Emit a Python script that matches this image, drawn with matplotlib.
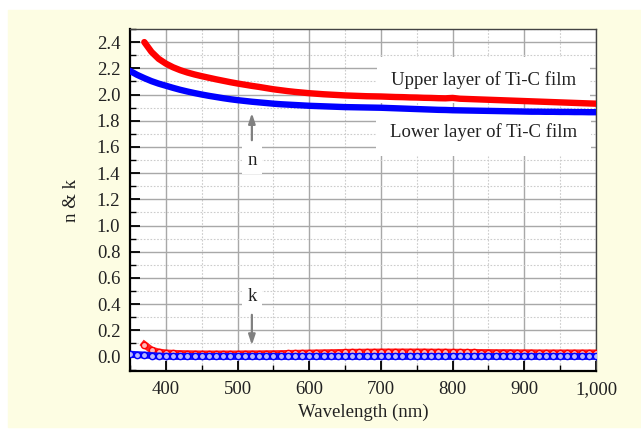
import numpy as np
import matplotlib
matplotlib.use("Agg")
import matplotlib.pyplot as plt
from matplotlib.ticker import MultipleLocator, FuncFormatter
from matplotlib.patches import Rectangle

plt.rcParams['font.family'] = ['Liberation Serif', 'DejaVu Serif']

# wavelength grid (nm)
wl_blue = [350, 360, 370, 380, 390, 400, 410, 420, 430, 440, 450, 460, 470, 480, 490,
           500, 510, 520, 530, 540, 550, 560, 570, 580, 590, 600, 610, 620, 630, 640,
           650, 660, 670, 680, 690, 700, 710, 720, 730, 740, 750, 760, 770, 780, 790,
           800, 810, 820, 830, 840, 850, 860, 870, 880, 890, 900, 910, 920, 930, 940,
           950, 960, 970, 980, 990, 1000]
wl_red = wl_blue[2:]

# lower layer (blue)
n_lower = [2.180, 2.150, 2.125, 2.102, 2.083, 2.067, 2.051, 2.036, 2.023, 2.011,
           2.000, 1.990, 1.981, 1.972, 1.964, 1.957, 1.951, 1.945, 1.940, 1.935,
           1.930, 1.926, 1.923, 1.920, 1.917, 1.914, 1.912, 1.910, 1.908, 1.906,
           1.904, 1.903, 1.902, 1.901, 1.900, 1.899, 1.897, 1.895, 1.893, 1.891,
           1.889, 1.887, 1.885, 1.883, 1.882, 1.880, 1.879, 1.878, 1.877, 1.876,
           1.875, 1.874, 1.873, 1.872, 1.871, 1.870, 1.869, 1.869, 1.868, 1.868,
           1.867, 1.867, 1.866, 1.866, 1.865, 1.865]
k_lower = [0.018, 0.015, 0.012, 0.008, 0.004, 0.002, 0.001, 0.001, 0.001, 0.001,
           0.001, 0.001, 0.001, 0.001, 0.001, 0.001, 0.001, 0.001, 0.001, 0.001,
           0.001, 0.001, 0.001, 0.001, 0.001, 0.001, 0.001, 0.001, 0.001, 0.001,
           0.001, 0.001, 0.001, 0.001, 0.001, 0.001, 0.001, 0.001, 0.001, 0.001,
           0.001, 0.001, 0.001, 0.001, 0.001, 0.001, 0.001, 0.001, 0.001, 0.001,
           0.001, 0.001, 0.001, 0.001, 0.001, 0.001, 0.001, 0.001, 0.001, 0.001,
           0.001, 0.001, 0.001, 0.001, 0.001, 0.001]

# upper layer (red)
n_upper = [2.400, 2.325, 2.272, 2.236, 2.208, 2.186, 2.168, 2.153, 2.140, 2.128,
           2.116, 2.105, 2.094, 2.084, 2.075, 2.066, 2.058, 2.049, 2.040, 2.033,
           2.026, 2.020, 2.015, 2.010, 2.006, 2.002, 1.999, 1.996, 1.993, 1.991,
           1.989, 1.987, 1.986, 1.985, 1.983, 1.981, 1.980, 1.978, 1.977, 1.975,
           1.974, 1.972, 1.971, 1.974, 1.968, 1.966, 1.964, 1.962, 1.960, 1.958,
           1.956, 1.954, 1.952, 1.950, 1.948, 1.946, 1.944, 1.942, 1.940, 1.938,
           1.936, 1.934, 1.932, 1.930]
k_upper = [0.092, 0.050, 0.035, 0.028, 0.025, 0.023, 0.022, 0.021, 0.020, 0.020,
           0.020, 0.020, 0.020, 0.020, 0.021, 0.021, 0.021, 0.022, 0.022, 0.023,
           0.024, 0.025, 0.026, 0.027, 0.028, 0.029, 0.030, 0.031, 0.032, 0.033,
           0.033, 0.034, 0.034, 0.035, 0.035, 0.035, 0.035, 0.035, 0.035, 0.035,
           0.034, 0.034, 0.034, 0.033, 0.033, 0.032, 0.032, 0.031, 0.031, 0.030,
           0.030, 0.030, 0.029, 0.029, 0.029, 0.028, 0.028, 0.028, 0.028, 0.028,
           0.028, 0.028, 0.028, 0.028]

fig = plt.figure(figsize=(6.41, 4.32), dpi=100)
fig.patches.append(Rectangle((8/641, 5/432), 1 - 8/641, 1 - 15/432,
                             transform=fig.transFigure, color='#fdfde3', zorder=-10))
ax = fig.add_axes([130/641, 61/432, 466/641, 342/432])
ax.set_zorder(1)

# n curves
ax.plot(wl_red, n_upper, color='#ff0000', lw=4.6, solid_capstyle='round', zorder=4)
ax.plot(wl_blue, n_lower, color='#0000ff', lw=4.6, solid_capstyle='round', zorder=4)
# k curves (open circles)
ax.plot(wl_red, k_upper, color='#ff2020', lw=5, zorder=4)
ax.plot(wl_red, k_upper, 'o', ms=4.5, mec='#ff0000', mfc='#ffb8b8', mew=1, zorder=4)
ax.plot(wl_blue, k_lower, color='#1010ff', lw=5, zorder=4)
ax.plot(wl_blue, k_lower, 'o', ms=4.5, mec='#0000ff', mfc='#b8b8ff', mew=1, zorder=4)

ax.set_xlim(350, 1000)
ax.set_ylim(-0.11, 2.5)
ax.xaxis.set_major_locator(MultipleLocator(100))
ax.xaxis.set_minor_locator(MultipleLocator(50))
ax.yaxis.set_minor_locator(MultipleLocator(0.1))
ax.set_yticks(np.arange(0, 2.41, 0.2))
ax.xaxis.set_major_formatter(FuncFormatter(lambda v, p: f"{int(v):,}"))
ax.yaxis.set_major_formatter(FuncFormatter(lambda v, p: f"{v:.1f}"))

ax.set_axisbelow(True)
ax.grid(which='major', color='#a8a8a8', lw=1.0, ls='-')
ax.grid(which='minor', color='#cccccc', lw=0.8, ls=(0, (1.5, 1.5)))

ax.tick_params(which='both', direction='in', top=False, right=False,
               labelsize=13.5, colors='#000000', labelcolor='#222222')
ax.tick_params(which='major', length=7, width=1.3, pad=7)
ax.tick_params(which='minor', length=4, width=1.0)
for s in ['left', 'bottom']:
    ax.spines[s].set_linewidth(1.6)
    ax.spines[s].set_color('#000000')
for s in ['top', 'right']:
    ax.spines[s].set_linewidth(1.0)
    ax.spines[s].set_color('#444444')

ax.set_xlabel('Wavelength (nm)', fontsize=13.5, color='#222222', labelpad=4)
ax.set_ylabel('n & k', fontsize=13.5, color='#222222', labelpad=12)

box = dict(boxstyle='square,pad=0.75', fc='white', ec='none')
ax.text(843, 2.11, 'Upper layer of Ti-C film', fontsize=13.5, color='#222222',
        ha='center', va='center', bbox=box, zorder=1.5)
ax.text(843, 1.71, 'Lower layer of Ti-C film', fontsize=13.5, color='#222222',
        ha='center', va='center', bbox=box, zorder=1.5)

arrow = dict(arrowstyle='-|>,head_length=0.6,head_width=0.2', color='#808080', lw=1.6)
ax.annotate('', xy=(520, 1.88), xytext=(520, 1.63), arrowprops=arrow)
ax.annotate('', xy=(520, 0.066), xytext=(520, 0.34), arrowprops=arrow)
sbox = dict(boxstyle='square,pad=0.3', fc='white', ec='none')
ax.text(520, 1.50, 'n', fontsize=13.5, color='#222222', ha='center', va='center',
        bbox=sbox, zorder=1.5)
ax.text(520, 0.456, 'k', fontsize=13.5, color='#222222', ha='center', va='center',
        bbox=sbox, zorder=1.5)

fig.savefig('out.png', dpi=100)
